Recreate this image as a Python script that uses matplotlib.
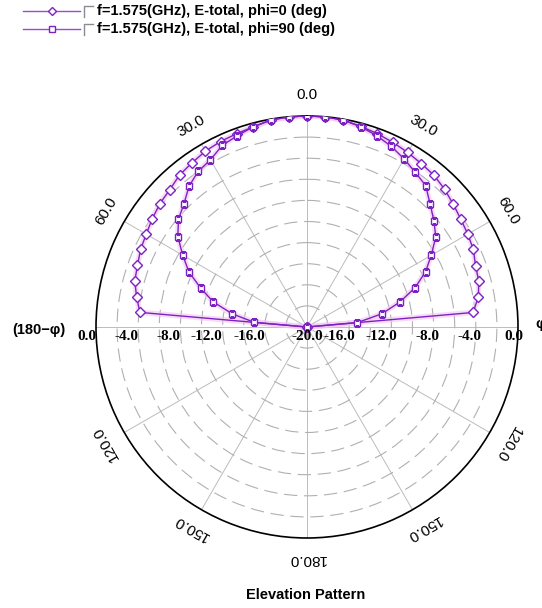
import numpy as np
import matplotlib.pyplot as plt
from matplotlib.lines import Line2D

# elevation angle (deg), left half is the (180-phi) cut
theta_deg = [-90, -85, -80, -75, -70, -65, -60, -55, -50, -45, -40, -35, -30, -25, -20, -15, -10, -5,
             0, 5, 10, 15, 20, 25, 30, 35, 40, 45, 50, 55, 60, 65, 70, 75, 80, 85, 90]
# E-total (dB), phi = 0
e_phi0 = [-20.0, -4.1, -3.6, -3.1, -2.9, -2.6, -2.4, -2.1, -1.8, -1.6, -1.2, -1.0, -0.75, -0.6, -0.5, -0.35, -0.1, 0.0,
          0.0, 0.0, -0.1, -0.3, -0.5, -0.7, -0.9, -1.1, -1.25, -1.55, -1.9, -2.2, -2.4, -2.6, -3.0, -3.15, -3.5, -4.2, -20.0]
# E-total (dB), phi = 90
e_phi90 = [-20.0, -15.0, -12.8, -10.8, -9.3, -7.65, -6.4, -5.05, -4.1, -3.5, -2.6, -2.0, -1.7, -1.0, -0.7, -0.35, -0.1, 0.0,
           0.0, 0.0, -0.1, -0.35, -0.7, -1.1, -1.6, -2.1, -2.5, -3.5, -4.3, -5.1, -6.4, -7.6, -9.1, -10.9, -12.8, -15.2, -20.0]

angle_ticks = [0, 30, 60, 120, 150, 180, 210, 240, 300, 330]
r_ticks = [0, -4, -8, -12, -16]
legend_labels = ['f=1.575(GHz), E-total, phi=0 (deg)', 'f=1.575(GHz), E-total, phi=90 (deg)']

W, H = 542, 608
purple = '#7d22c2'

fig = plt.figure(figsize=(W / 100, H / 100), dpi=100)
ax = fig.add_axes([96 / W, 70 / H, 422 / W, 422 / H], projection='polar')
ax.set_theta_zero_location('N')
ax.set_theta_direction(-1)
ax.set_rlim(-20, 0)

ax.set_xticks(np.radians(np.arange(0, 360, 30)))
ax.set_yticks(np.arange(-18, 0, 2))
ax.set_xticklabels([])
ax.set_yticklabels([])
ax.tick_params(length=0)
ax.xaxis.grid(True, linestyle='-', color='#bcbcbc', lw=0.7)
ax.yaxis.grid(True, linestyle=(0, (12, 6)), color='#b0b0b0', lw=0.8)
ax.spines['polar'].set_color('black')
ax.spines['polar'].set_linewidth(1.2)

th = np.radians(theta_deg)
for vals, mk, ms in [(e_phi0, 'D', 5.5), (e_phi90, 's', 5.0)]:
    ax.plot(th, vals, color='#f2c6f2', lw=4, alpha=0.6, zorder=2)
    ax.plot(th, vals, color=purple, lw=1.0, marker=mk, ms=ms, mfc='white',
            mec=purple, mew=1.0, zorder=3)

# angle labels
for a in angle_ticks:
    shown = a if a <= 180 else 360 - a
    ax.text(np.radians(a), 2.0, f'{shown:.1f}', rotation=-a, rotation_mode='anchor',
            ha='center', va='center', fontsize=11, family='Liberation Sans', clip_on=False)

# radial labels along the horizontal axis
for side, dx in ((-90, 0), (90, 4)):
    for r in r_ticks:
        ax.annotate(f'{r:.1f}', xy=(np.radians(side), r), xytext=(dx, -2), textcoords='offset points',
                    ha='right', va='top', fontsize=11, fontweight='bold', family='Liberation Serif')
ax.annotate('-20.0', xy=(0, -20), xytext=(0, -2), textcoords='offset points',
            ha='center', va='top', fontsize=11, fontweight='bold', family='Liberation Serif')

fig.text(12 / W, 1 - 330 / H, '(180\u2212\u03c6)', ha='left', va='center', fontsize=10.5,
         fontweight='bold', family=['Liberation Sans', 'DejaVu Sans'])
fig.text(535 / W, 1 - 324 / H, '\u03c6', ha='left', va='center', fontsize=11,
         fontweight='bold', family=['Liberation Sans', 'DejaVu Sans'])

fig.text(306 / W, 1 - 595 / H, 'Elevation Pattern', ha='center', va='center', fontsize=10.5,
         fontweight='bold', family='Liberation Sans')

# legend
for i, (lab, mk) in enumerate(zip(legend_labels, ['D', 's'])):
    y = 11 + i * 18
    yf = 1 - y / H
    fig.add_artist(Line2D([23 / W, 52 / W, 80 / W], [yf, yf, yf], color='#9a4ad8', lw=1.0,
                          marker=mk, ms=4.5, mfc='white', mec=purple, markevery=[1]))
    fig.add_artist(Line2D([84 / W, 84 / W, 93 / W], [1 - (y + 6) / H, 1 - (y - 5) / H, 1 - (y - 5) / H],
                          color='#8c8c8c', lw=1.0))
    fig.text(97 / W, yf, lab, ha='left', va='center', fontsize=10.5, fontweight='bold',
             family='Liberation Sans')

fig.savefig('out.png', dpi=100)
